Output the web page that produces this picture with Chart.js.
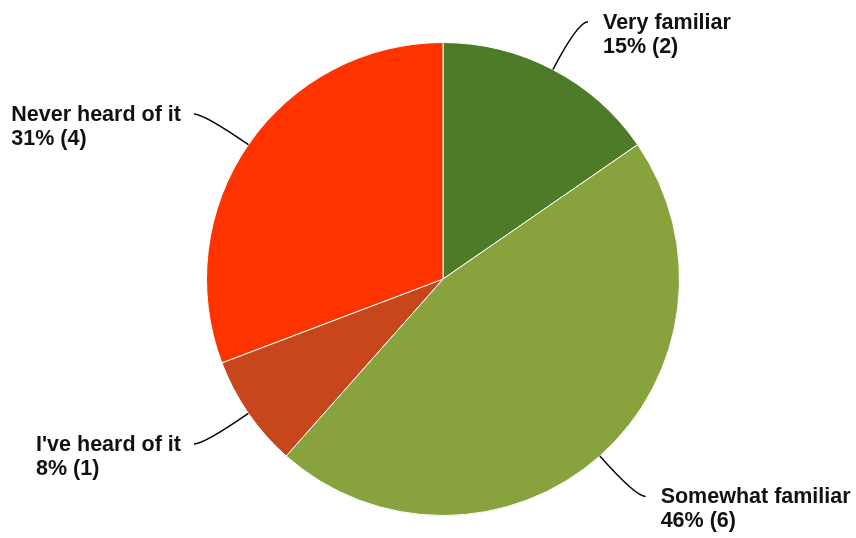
<!DOCTYPE html>
<html>
<head>
<meta charset="utf-8">
<script src="https://cdn.jsdelivr.net/npm/chart.js@4/dist/chart.umd.min.js"></script>
<style>
  html, body { margin: 0; padding: 0; background: #fff; }
  #wrap { width: 856px; height: 538px; }
</style>
</head>
<body>
<div id="wrap"><canvas id="chart" width="856" height="538"></canvas></div>
<script>
'use strict';

// answers and how many people picked each
var answers = ['Very familiar', 'Somewhat familiar', 'I\'ve heard of it', 'Never heard of it'];
var counts = [2, 6, 1, 4];
var sliceColors = ['#4e7b28', '#88a33e', '#c8461b', '#ff3300'];

var total = counts.reduce(function(a, b){ return a + b; }, 0);

// draws the callout lines and two-line labels next to each slice
var calloutPlugin = {
  id: 'callouts',
  afterDatasetsDraw: function(chart){
    var ctx = chart.ctx;
    var meta = chart.getDatasetMeta(0);
    ctx.save();
    ctx.font = 'bold 21.5px "Liberation Sans", Arial, sans-serif';
    ctx.fillStyle = '#111';
    ctx.strokeStyle = '#000';
    ctx.lineWidth = 1.4;
    meta.data.forEach(function(arc, i){
      var mid = (arc.startAngle + arc.endAngle) / 2;
      var cos = Math.cos(mid), sin = Math.sin(mid);
      var r = arc.outerRadius;
      var x0 = arc.x + cos * r, y0 = arc.y + sin * r;
      var cx = x0 + cos * 54, cy = y0 + sin * 54;
      var right = cos >= 0;
      var ex = cx + (right ? 10 : -10), ey = cy;

      ctx.beginPath();
      ctx.moveTo(x0, y0);
      ctx.quadraticCurveTo(cx, cy, ex, ey);
      ctx.stroke();

      var pct = Math.round(counts[i] / total * 100);
      var lines = [answers[i], pct + '% (' + counts[i] + ')'];
      var w = Math.max(ctx.measureText(lines[0]).width, ctx.measureText(lines[1]).width);
      var tx = right ? ex + 15 : ex - 13 - w;
      ctx.textAlign = 'left';
      ctx.textBaseline = 'alphabetic';
      ctx.fillText(lines[0], tx, ey + 7);
      ctx.fillText(lines[1], tx, ey + 31);
    });
    ctx.restore();
  }
};

var canvas = document.getElementById('chart');
var ctx = canvas.getContext('2d');

new Chart(ctx, {
  type: 'pie',
  data: {
    labels: answers,
    datasets: [{
      data: counts,
      backgroundColor: sliceColors,
      borderColor: '#ffffff',
      borderWidth: 1
    }]
  },
  options: {
    responsive: false,
    animation: false,
    layout: { padding: { top: 42, bottom: 22, left: 100, right: 70 } },
    plugins: {
      legend: { display: false },
      tooltip: { enabled: false }
    }
  },
  plugins: [calloutPlugin]
});
</script>
</body>
</html>
